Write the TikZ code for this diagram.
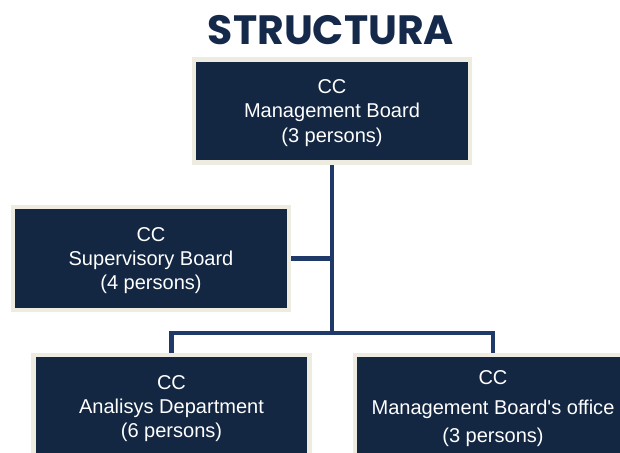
\documentclass[tikz,border=0pt]{standalone}
\usepackage{fontspec}
\setmainfont{Liberation Sans}
\newfontfamily\titlefont{Poppins}
\usetikzlibrary{positioning,calc}

\definecolor{navy}{RGB}{19,38,66}
\definecolor{cream}{RGB}{238,235,224}
\definecolor{linkblue}{RGB}{31,58,104}
\definecolor{titleblue}{RGB}{21,41,74}

\begin{document}
\begin{tikzpicture}[
    x=0.02cm, y=-0.02cm,
    unit/.style={rectangle, fill=navy, draw=cream, line width=2.55pt, minimum width=5.53cm, minimum height=2.07cm, text depth=-3.6pt, align=center, text=white, font=\fontsize{11.4}{13.9}\selectfont},
    title/.style={font=\titlefont\bfseries\fontsize{23.3}{27}\selectfont, text=titleblue},
    link/.style={draw=linkblue, line width=2.3pt}
]
\useasboundingbox (0,0) rectangle (620,453);
\fill[white] (0,0) rectangle (620,453);
\clip (0,0) rectangle (620,453);

% heading
\node[title] (head) at (331,30) {STRUCTURA};

% boards
\node[unit] (mboard) at (332,111) {CC\\Management Board\\(3 persons)};
\node[unit] (sboard) at (151,258.5) {CC\\Supervisory Board\\(4 persons)};

% departments
\node[unit] (analysis) at (171.5,406.5) {CC\\Analisys Department\\(6 persons)};
\node[unit] (office) at (493,406.5) {CC\\[3pt]Management Board\textquotesingle s office\\[2pt](3 persons)};

% lines
\coordinate (bus) at (332,333);
\draw[link] (mboard.south) -- (bus);
\draw[link] (sboard.east) -- (sboard.east -| bus);
\draw[link] (analysis.north) |- (bus) -| (office.north);

\end{tikzpicture}
\end{document}
